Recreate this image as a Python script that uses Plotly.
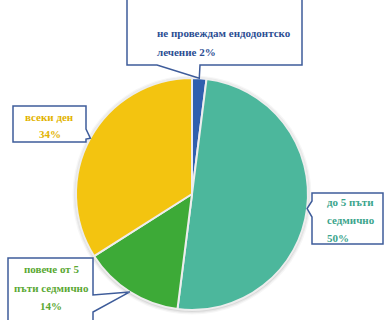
import math
import plotly.graph_objects as go

# Survey answers and their shares (%)
categories = [
    "не провеждам ендодонтско лечение",
    "до 5 пъти седмично",
    "повече от 5 пъти седмично",
    "всеки ден",
]
values = [2, 50, 14, 34]

slice_colors = ["#2F5FAE", "#4CB79C", "#3DAA37", "#F3C410"]
text_colors = ["#2C4E93", "#3BA58C", "#5AA833", "#E2B300"]

W, H = 387, 320
# pie placement in pixels
CX, CY, R = 192, 194, 116

# callout boxes (pixel coords): rect, edge carrying the pointer, pointer base span,
# words per line, text anchor, first baseline, line step
callouts = [
    dict(rect=(127, -6, 302, 65), edge="bottom", base=(157, 200), words=[3],
         x=155, align="left", y0=33, step=19),
    dict(rect=(312, 193, 383, 244), edge="left", base=(201, 217), words=[3, 1],
         x=325, align="left", y0=202, step=18),
    dict(rect=(8, 258, 93, 330), edge="right", base=(295, 312), words=[3, 2],
         x=51, align="center", y0=269, step=18.5),
    dict(rect=(13, 106, 86, 142), edge="right", base=(129, 139), words=[2],
         x=49.5, align="center", y0=117, step=17),
]

total = sum(values)


def tip_point(i):
    start = sum(values[:i]) / total
    mid = (start + values[i] / total / 2) * 2 * math.pi
    return CX + R * math.sin(mid), CY - R * math.cos(mid)


def callout_path(c, tip):
    x0, y0, x1, y1 = c["rect"]
    b0, b1 = c["base"]
    tx, ty = tip
    e = c["edge"]
    pts = [(x0, y0), (x1, y0)]
    if e == "right":
        pts += [(x1, b0), (tx, ty), (x1, b1)]
    pts += [(x1, y1)]
    if e == "bottom":
        pts += [(b1, y1), (tx, ty), (b0, y1)]
    pts += [(x0, y1)]
    if e == "left":
        pts += [(x0, b1), (tx, ty), (x0, b0)]
    d = "M " + " L ".join(f"{x:.2f},{y:.2f}" for x, y in pts) + " Z"
    return d


fig = go.Figure()

fig.add_trace(go.Pie(
    labels=categories,
    values=values,
    sort=False,
    direction="clockwise",
    rotation=0,
    marker=dict(colors=slice_colors, line=dict(color="#EDEDED", width=2)),
    textinfo="none",
    hoverinfo="label+percent",
    showlegend=False,
    domain=dict(x=[(CX - R) / W, (CX + R) / W], y=[(H - CY - R) / H, (H - CY + R) / H]),
))

# invisible pixel-space axes for the callouts
fig.add_trace(go.Scatter(x=[0, W], y=[0, H], mode="markers",
                         marker=dict(opacity=0), hoverinfo="skip", showlegend=False))

shapes = []
# soft drop shadow around the pie
for k, a in [(3.5, 0.035), (2.2, 0.05), (1.0, 0.07)]:
    shapes.append(dict(type="circle", xref="x", yref="y",
                       x0=CX - R - k, x1=CX + R + k, y0=CY - R - k + 1, y1=CY + R + k + 1,
                       line=dict(width=0), fillcolor=f"rgba(0,0,0,{a})", layer="below"))

annotations = []
for i, c in enumerate(callouts):
    shapes.append(dict(type="path", xref="x", yref="y", path=callout_path(c, tip_point(i)),
                       line=dict(color="#3E5C9A", width=1.5), fillcolor="white", layer="above"))
    words = (categories[i] + f" {values[i]}%").split()
    lines, pos = [], 0
    for n in c["words"]:
        lines.append(" ".join(words[pos:pos + n]))
        pos += n
    lines.append(" ".join(words[pos:]))
    for j, line in enumerate(lines):
        annotations.append(dict(
            x=c["x"], y=c["y0"] + j * c["step"], xref="x", yref="y",
            text=f"<b>{line}</b>", showarrow=False,
            xanchor=c["align"],
            yanchor="middle",
            font=dict(family="Liberation Serif, Times New Roman, serif", size=11,
                      color=text_colors[i]),
        ))

fig.update_layout(
    width=W, height=H,
    margin=dict(l=0, r=0, t=0, b=0),
    paper_bgcolor="white", plot_bgcolor="white",
    xaxis=dict(range=[0, W], visible=False, domain=[0, 1], fixedrange=True),
    yaxis=dict(range=[H, 0], visible=False, domain=[0, 1], fixedrange=True),
    shapes=shapes,
    annotations=annotations,
)

fig.write_html("out.html")
